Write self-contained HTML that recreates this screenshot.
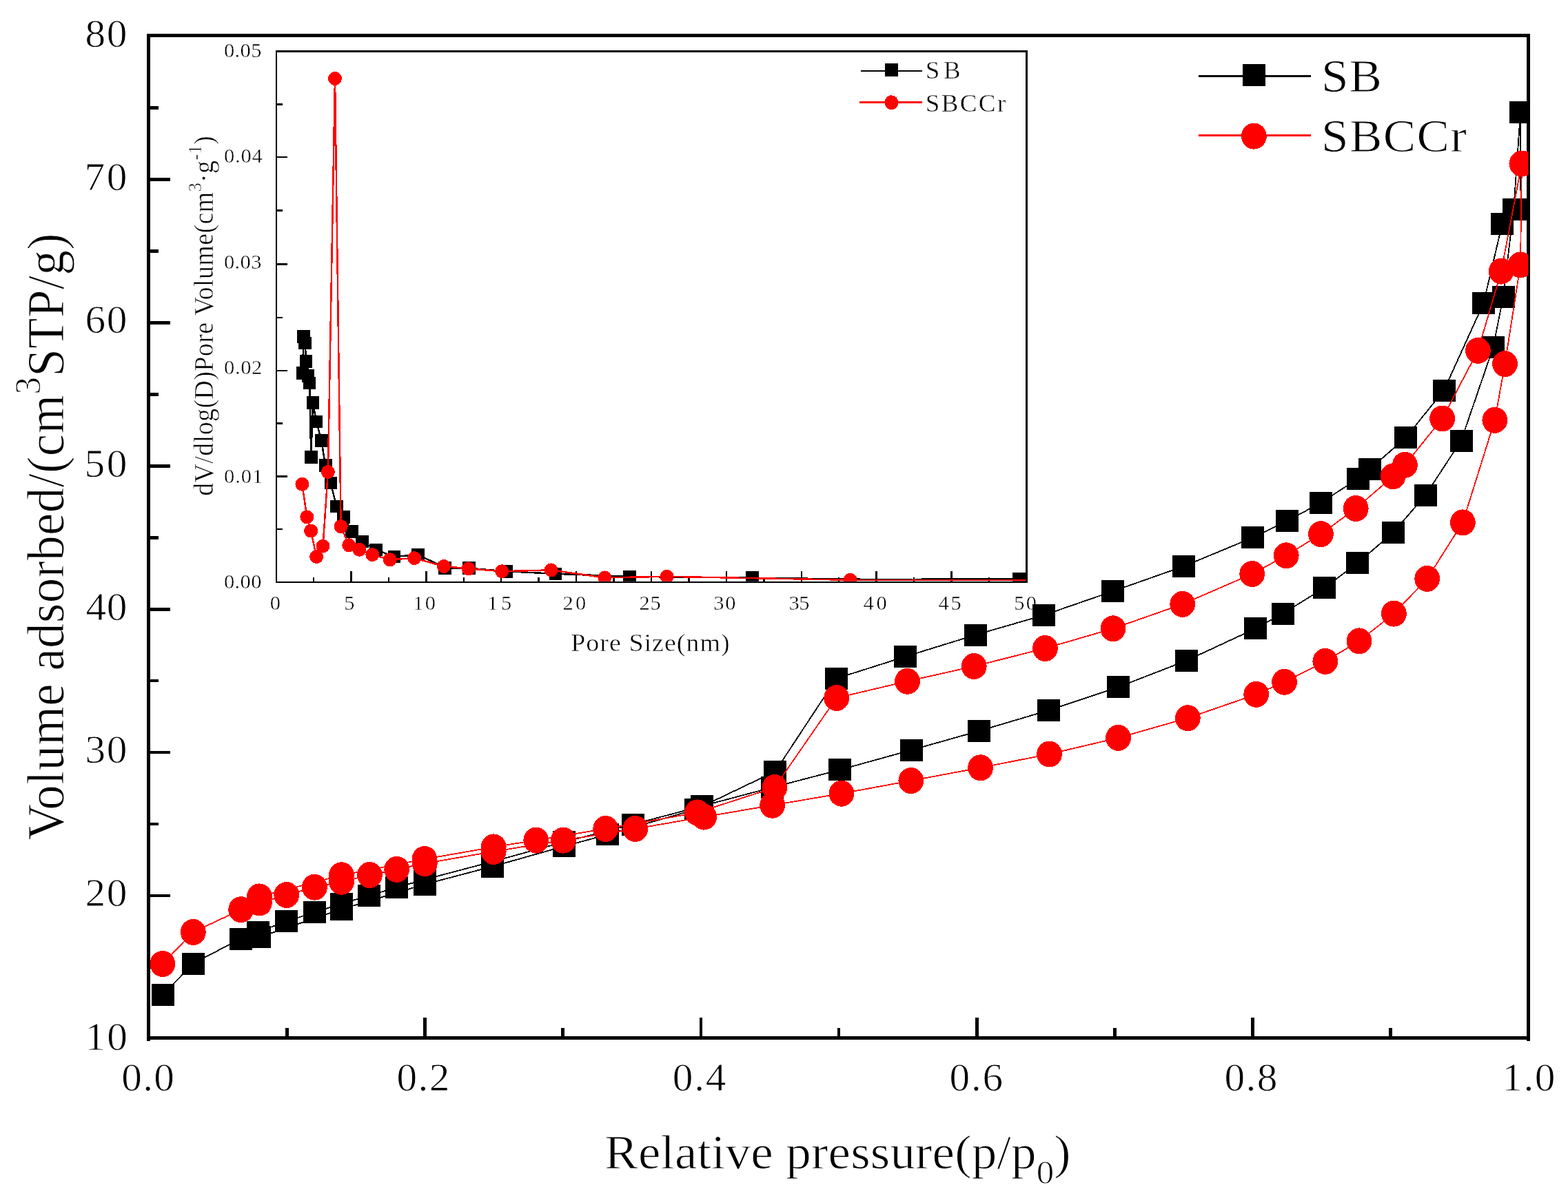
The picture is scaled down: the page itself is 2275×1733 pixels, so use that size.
<!DOCTYPE html>
<html lang="en"><head><meta charset="utf-8"><title>N2 adsorption-desorption isotherms</title>
<style>html,body{margin:0;padding:0;background:#fff}body{width:2275px;height:1733px;overflow:hidden}svg{display:block}text{font-family:'Liberation Serif', serif;fill:#000;white-space:pre}</style></head><body>
<svg width="2275" height="1733" viewBox="0 0 2275 1733">
<rect x="0" y="0" width="2275" height="1733" fill="#fff"/>
<defs><clipPath id="cm"><rect x="215.2" y="51.5" width="2002.0" height="1454.9"/></clipPath><clipPath id="ci"><rect x="402.4" y="75.8" width="1085.7" height="768.0"/></clipPath></defs>
<text transform="translate(123.40 1523.60) scale(1.0400 1.0000)" font-size="57.00" text-anchor="start" letter-spacing="2.13" stroke="#fff" stroke-width="0.81">10</text>
<text transform="translate(123.40 1314.96) scale(1.0400 1.0000)" font-size="57.00" text-anchor="start" letter-spacing="1.73" stroke="#fff" stroke-width="0.81">20</text>
<text transform="translate(123.40 1107.32) scale(1.0400 1.0000)" font-size="57.00" text-anchor="start" letter-spacing="1.73" stroke="#fff" stroke-width="0.81">30</text>
<text transform="translate(124.40 899.68) scale(1.0400 1.0000)" font-size="57.00" text-anchor="start" letter-spacing="0.76" stroke="#fff" stroke-width="0.81">40</text>
<text transform="translate(122.40 692.04) scale(1.0400 1.0000)" font-size="57.00" text-anchor="start" letter-spacing="2.63" stroke="#fff" stroke-width="0.81">50</text>
<text transform="translate(123.40 483.40) scale(1.0400 1.0000)" font-size="57.00" text-anchor="start" letter-spacing="1.73" stroke="#fff" stroke-width="0.81">60</text>
<text transform="translate(122.40 275.76) scale(1.0400 1.0000)" font-size="57.00" text-anchor="start" letter-spacing="2.63" stroke="#fff" stroke-width="0.81">70</text>
<text transform="translate(123.40 68.12) scale(1.0400 1.0000)" font-size="57.00" text-anchor="start" letter-spacing="1.69" stroke="#fff" stroke-width="0.81">80</text>
<text transform="translate(176.20 1583.20) scale(1.0400 1.0000)" font-size="57.00" text-anchor="start" letter-spacing="1.26" stroke="#fff" stroke-width="0.81">0.0</text>
<text transform="translate(575.60 1583.20) scale(1.0400 1.0000)" font-size="57.00" text-anchor="start" letter-spacing="1.31" stroke="#fff" stroke-width="0.81">0.2</text>
<text transform="translate(975.80 1583.20) scale(1.0400 1.0000)" font-size="57.00" text-anchor="start" letter-spacing="1.69" stroke="#fff" stroke-width="0.81">0.4</text>
<text transform="translate(1377.60 1583.20) scale(1.0400 1.0000)" font-size="57.00" text-anchor="start" letter-spacing="1.64" stroke="#fff" stroke-width="0.81">0.6</text>
<text transform="translate(1776.40 1583.20) scale(1.0400 1.0000)" font-size="57.00" text-anchor="start" letter-spacing="1.35" stroke="#fff" stroke-width="0.81">0.8</text>
<text transform="translate(2179.60 1583.20) scale(1.0400 1.0000)" font-size="57.00" text-anchor="start" letter-spacing="1.33" stroke="#fff" stroke-width="0.81">1.0</text>
<text transform="translate(877.00 1695.70) scale(1.0400 1.0000)" font-size="70.30" text-anchor="start" letter-spacing="0.16" stroke="#fff" stroke-width="1.00">Relative pressure(p/p<tspan dy="22" font-size="49">0</tspan><tspan dy="-22" font-size="70.3">)</tspan></text>
<text transform="translate(91.80 1219.40) rotate(-90) scale(0.9600 1.0000)" font-size="75.80" text-anchor="start" letter-spacing="0.42" stroke="#fff" stroke-width="1.00">Volume adsorbed/(cm<tspan dy="-34" font-size="53">3</tspan><tspan dy="34" font-size="75.8">STP/g)</tspan></text>
<text transform="translate(1917.00 133.20) scale(1.0400 1.0000)" font-size="68.30" text-anchor="start" letter-spacing="1.04" stroke="#fff" stroke-width="0.97">SB</text>
<text transform="translate(1917.00 219.80) scale(1.0400 1.0000)" font-size="68.30" text-anchor="start" letter-spacing="1.35" stroke="#fff" stroke-width="0.97">SBCCr</text>
<text transform="translate(1342.80 114.20) scale(1.0400 1.0000)" font-size="35.60" text-anchor="start" letter-spacing="5.33" stroke="#fff" stroke-width="0.50">SB</text>
<text transform="translate(1342.80 162.20) scale(1.0400 1.0000)" font-size="35.60" text-anchor="start" letter-spacing="2.28" stroke="#fff" stroke-width="0.50">SBCCr</text>
<text transform="translate(325.00 853.60) scale(1.0400 1.0000)" font-size="29.30" text-anchor="start" letter-spacing="0.36" stroke="#fff" stroke-width="0.42">0.00</text>
<text transform="translate(325.00 700.52) scale(1.0400 1.0000)" font-size="29.30" text-anchor="start" letter-spacing="0.94" stroke="#fff" stroke-width="0.42">0.01</text>
<text transform="translate(325.00 543.44) scale(1.0400 1.0000)" font-size="29.30" text-anchor="start" letter-spacing="0.65" stroke="#fff" stroke-width="0.42">0.02</text>
<text transform="translate(325.00 390.36) scale(1.0400 1.0000)" font-size="29.30" text-anchor="start" letter-spacing="0.36" stroke="#fff" stroke-width="0.42">0.03</text>
<text transform="translate(325.00 236.28) scale(1.0400 1.0000)" font-size="29.30" text-anchor="start" letter-spacing="0.79" stroke="#fff" stroke-width="0.42">0.04</text>
<text transform="translate(325.00 83.20) scale(1.0400 1.0000)" font-size="29.30" text-anchor="start" letter-spacing="0.36" stroke="#fff" stroke-width="0.42">0.05</text>
<text transform="translate(391.85 884.80) scale(1.0400 1.0000)" font-size="29.30" text-anchor="start" letter-spacing="0.00" stroke="#fff" stroke-width="0.42">0</text>
<text transform="translate(499.35 884.80) scale(1.0400 1.0000)" font-size="29.30" text-anchor="start" letter-spacing="0.00" stroke="#fff" stroke-width="0.42">5</text>
<text transform="translate(599.20 884.80) scale(1.0400 1.0000)" font-size="29.30" text-anchor="start" letter-spacing="2.27" stroke="#fff" stroke-width="0.42">10</text>
<text transform="translate(707.00 884.80) scale(1.0400 1.0000)" font-size="29.30" text-anchor="start" letter-spacing="4.57" stroke="#fff" stroke-width="0.42">15</text>
<text transform="translate(816.60 884.80) scale(1.0400 1.0000)" font-size="29.30" text-anchor="start" letter-spacing="3.02" stroke="#fff" stroke-width="0.42">20</text>
<text transform="translate(927.40 884.80) scale(1.0400 1.0000)" font-size="29.30" text-anchor="start" letter-spacing="0.75" stroke="#fff" stroke-width="0.42">25</text>
<text transform="translate(1035.20 884.80) scale(1.0400 1.0000)" font-size="29.30" text-anchor="start" letter-spacing="1.80" stroke="#fff" stroke-width="0.42">30</text>
<text transform="translate(1144.40 884.80) scale(1.0400 1.0000)" font-size="29.30" text-anchor="start" letter-spacing="-0.40" stroke="#fff" stroke-width="0.42">35</text>
<text transform="translate(1252.60 884.80) scale(1.0400 1.0000)" font-size="29.30" text-anchor="start" letter-spacing="3.63" stroke="#fff" stroke-width="0.42">40</text>
<text transform="translate(1361.60 884.80) scale(1.0400 1.0000)" font-size="29.30" text-anchor="start" letter-spacing="2.48" stroke="#fff" stroke-width="0.42">45</text>
<text transform="translate(1471.20 884.80) scale(1.0400 1.0000)" font-size="29.30" text-anchor="start" letter-spacing="2.27" stroke="#fff" stroke-width="0.42">50</text>
<text transform="translate(828.20 944.60) scale(1.0400 1.0000)" font-size="36.50" text-anchor="start" letter-spacing="0.99" stroke="#fff" stroke-width="0.52">Pore Size(nm)</text>
<text transform="translate(308.60 719.80) rotate(-90) scale(0.9600 1.0000)" font-size="39.50" text-anchor="start" letter-spacing="0.44" stroke="#fff" stroke-width="0.56">dV/dlog(D)Pore Volume(cm<tspan dy="-17" font-size="27">3</tspan><tspan dy="17" font-size="39.5">·g</tspan><tspan dy="-17" font-size="27">-1</tspan><tspan dy="17" font-size="39.5">)</tspan></text>
<g shape-rendering="crispEdges">
<rect x="212.70" y="49.00" width="5.00" height="1461.90" fill="#000"/>
<rect x="2214.50" y="49.00" width="5.00" height="1461.90" fill="#000"/>
<rect x="212.70" y="49.00" width="2006.80" height="5.00" fill="#000"/>
<rect x="212.70" y="1503.90" width="2006.80" height="5.00" fill="#000"/>
<rect x="414.13" y="1491.90" width="4.80" height="14.50" fill="#000"/>
<rect x="614.26" y="1477.40" width="4.80" height="29.00" fill="#000"/>
<rect x="814.39" y="1491.90" width="4.80" height="14.50" fill="#000"/>
<rect x="1014.52" y="1477.40" width="4.80" height="29.00" fill="#000"/>
<rect x="1214.65" y="1491.90" width="4.80" height="14.50" fill="#000"/>
<rect x="1414.78" y="1477.40" width="4.80" height="29.00" fill="#000"/>
<rect x="1614.91" y="1491.90" width="4.80" height="14.50" fill="#000"/>
<rect x="1815.04" y="1477.40" width="4.80" height="29.00" fill="#000"/>
<rect x="2015.17" y="1491.90" width="4.80" height="14.50" fill="#000"/>
<rect x="215.20" y="1401.44" width="14.70" height="4.80" fill="#000"/>
<rect x="215.20" y="1297.50" width="31.80" height="4.80" fill="#000"/>
<rect x="215.20" y="1193.56" width="14.70" height="4.80" fill="#000"/>
<rect x="215.20" y="1089.62" width="31.80" height="4.80" fill="#000"/>
<rect x="215.20" y="985.68" width="14.70" height="4.80" fill="#000"/>
<rect x="215.20" y="881.74" width="31.80" height="4.80" fill="#000"/>
<rect x="215.20" y="777.80" width="14.70" height="4.80" fill="#000"/>
<rect x="215.20" y="673.86" width="31.80" height="4.80" fill="#000"/>
<rect x="215.20" y="569.92" width="14.70" height="4.80" fill="#000"/>
<rect x="215.20" y="465.98" width="31.80" height="4.80" fill="#000"/>
<rect x="215.20" y="362.04" width="14.70" height="4.80" fill="#000"/>
<rect x="215.20" y="258.10" width="31.80" height="4.80" fill="#000"/>
<rect x="215.20" y="154.16" width="14.70" height="4.80" fill="#000"/>
</g>
<g clip-path="url(#cm)" shape-rendering="crispEdges">
<polyline points="236.0,1444.0 280.3,1398.5 349.0,1362.5 374.3,1352.6 415.9,1337.2 456.4,1324.0 495.9,1311.7 535.0,1299.9 575.9,1288.0 616.4,1276.5 714.9,1250.5 818.3,1222.0 918.2,1196.5 1018.3,1170.0 1120.0,1143.0 1218.4,1117.4 1322.0,1088.7 1420.4,1061.0 1521.3,1031.1 1622.4,997.3 1721.5,958.8 1821.7,912.2 1861.1,890.6 1921.5,853.3 1969.5,817.4 2021.2,773.0 2068.1,719.0 2120.0,639.5 2166.4,504.3 2181.0,430.6 2196.2,303.6 2206.0,163.2" fill="none" stroke="#000" stroke-width="1.80" stroke-linejoin="round"/>
<polyline points="2206.0,163.2 2206.5,304.0 2179.5,325.2 2152.4,440.3 2095.0,566.5 2039.6,635.2 1987.1,681.2 1970.6,694.6 1916.4,729.7 1867.4,756.2 1817.9,780.2 1717.2,822.0 1614.9,858.1 1514.0,893.0 1415.5,921.5 1313.3,953.1 1213.5,984.8 1124.9,1119.6 1009.7,1174.7 881.1,1211.4 818.3,1228.4 714.9,1257.5 616.4,1283.5 495.9,1319.5 376.3,1360.3" fill="none" stroke="#000" stroke-width="1.80" stroke-linejoin="round"/>
<rect x="219.5" y="1428.0" width="33.0" height="32.0" fill="#000"/>
<rect x="263.8" y="1382.5" width="33.0" height="32.0" fill="#000"/>
<rect x="332.5" y="1346.5" width="33.0" height="32.0" fill="#000"/>
<rect x="357.8" y="1336.6" width="33.0" height="32.0" fill="#000"/>
<rect x="399.4" y="1321.2" width="33.0" height="32.0" fill="#000"/>
<rect x="439.9" y="1308.0" width="33.0" height="32.0" fill="#000"/>
<rect x="479.4" y="1295.7" width="33.0" height="32.0" fill="#000"/>
<rect x="518.5" y="1283.9" width="33.0" height="32.0" fill="#000"/>
<rect x="559.4" y="1272.0" width="33.0" height="32.0" fill="#000"/>
<rect x="599.9" y="1260.5" width="33.0" height="32.0" fill="#000"/>
<rect x="698.4" y="1234.5" width="33.0" height="32.0" fill="#000"/>
<rect x="801.8" y="1206.0" width="33.0" height="32.0" fill="#000"/>
<rect x="901.7" y="1180.5" width="33.0" height="32.0" fill="#000"/>
<rect x="1001.8" y="1154.0" width="33.0" height="32.0" fill="#000"/>
<rect x="1103.5" y="1127.0" width="33.0" height="32.0" fill="#000"/>
<rect x="1201.9" y="1101.4" width="33.0" height="32.0" fill="#000"/>
<rect x="1305.5" y="1072.7" width="33.0" height="32.0" fill="#000"/>
<rect x="1403.9" y="1045.0" width="33.0" height="32.0" fill="#000"/>
<rect x="1504.8" y="1015.1" width="33.0" height="32.0" fill="#000"/>
<rect x="1605.9" y="981.3" width="33.0" height="32.0" fill="#000"/>
<rect x="1705.0" y="942.8" width="33.0" height="32.0" fill="#000"/>
<rect x="1805.2" y="896.2" width="33.0" height="32.0" fill="#000"/>
<rect x="1844.6" y="874.6" width="33.0" height="32.0" fill="#000"/>
<rect x="1905.0" y="837.3" width="33.0" height="32.0" fill="#000"/>
<rect x="1953.0" y="801.4" width="33.0" height="32.0" fill="#000"/>
<rect x="2004.7" y="757.0" width="33.0" height="32.0" fill="#000"/>
<rect x="2051.6" y="703.0" width="33.0" height="32.0" fill="#000"/>
<rect x="2103.5" y="623.5" width="33.0" height="32.0" fill="#000"/>
<rect x="2149.9" y="488.3" width="33.0" height="32.0" fill="#000"/>
<rect x="2164.5" y="414.6" width="33.0" height="32.0" fill="#000"/>
<rect x="2179.7" y="287.6" width="33.0" height="32.0" fill="#000"/>
<rect x="2189.5" y="147.2" width="33.0" height="32.0" fill="#000"/>
<rect x="2189.5" y="147.2" width="33.0" height="32.0" fill="#000"/>
<rect x="2190.0" y="288.0" width="33.0" height="32.0" fill="#000"/>
<rect x="2163.0" y="309.2" width="33.0" height="32.0" fill="#000"/>
<rect x="2135.9" y="424.3" width="33.0" height="32.0" fill="#000"/>
<rect x="2078.5" y="550.5" width="33.0" height="32.0" fill="#000"/>
<rect x="2023.1" y="619.2" width="33.0" height="32.0" fill="#000"/>
<rect x="1970.6" y="665.2" width="33.0" height="32.0" fill="#000"/>
<rect x="1954.1" y="678.6" width="33.0" height="32.0" fill="#000"/>
<rect x="1899.9" y="713.7" width="33.0" height="32.0" fill="#000"/>
<rect x="1850.9" y="740.2" width="33.0" height="32.0" fill="#000"/>
<rect x="1801.4" y="764.2" width="33.0" height="32.0" fill="#000"/>
<rect x="1700.7" y="806.0" width="33.0" height="32.0" fill="#000"/>
<rect x="1598.4" y="842.1" width="33.0" height="32.0" fill="#000"/>
<rect x="1497.5" y="877.0" width="33.0" height="32.0" fill="#000"/>
<rect x="1399.0" y="905.5" width="33.0" height="32.0" fill="#000"/>
<rect x="1296.8" y="937.1" width="33.0" height="32.0" fill="#000"/>
<rect x="1197.0" y="968.8" width="33.0" height="32.0" fill="#000"/>
<rect x="1108.4" y="1103.6" width="33.0" height="32.0" fill="#000"/>
<rect x="993.2" y="1158.7" width="33.0" height="32.0" fill="#000"/>
<rect x="864.6" y="1195.4" width="33.0" height="32.0" fill="#000"/>
<rect x="801.8" y="1212.4" width="33.0" height="32.0" fill="#000"/>
<rect x="698.4" y="1241.5" width="33.0" height="32.0" fill="#000"/>
<rect x="599.9" y="1267.5" width="33.0" height="32.0" fill="#000"/>
<rect x="479.4" y="1303.5" width="33.0" height="32.0" fill="#000"/>
<rect x="359.8" y="1344.3" width="33.0" height="32.0" fill="#000"/>
<polyline points="235.9,1398.9 280.3,1352.9 349.7,1320.2 376.4,1310.5 415.7,1299.0 456.4,1287.7 495.5,1279.8 536.4,1270.0 575.7,1261.8 616.3,1253.2 716.2,1235.9 817.4,1219.6 921.8,1202.9 1021.6,1185.6 1120.7,1168.7 1221.0,1151.7 1321.8,1133.1 1422.6,1114.3 1522.5,1094.5 1622.5,1070.9 1723.3,1042.2 1822.7,1007.8 1863.6,989.8 1922.8,959.9 1972.0,930.4 2022.4,890.6 2070.7,839.9 2122.3,758.4 2168.8,609.8 2183.5,528.2 2206.0,384.4 2207.9,237.5" fill="none" stroke="#f00" stroke-width="1.80" stroke-linejoin="round"/>
<polyline points="2207.9,237.5 2178.2,393.6 2144.4,508.9 2092.6,607.5 2038.4,674.8 2021.2,691.3 1967.2,738.0 1916.4,775.2 1866.2,806.3 1816.7,833.0 1715.7,876.9 1615.0,912.3 1516.4,941.0 1413.2,967.1 1316.5,988.8 1213.7,1013.0 1123.9,1143.0 1011.6,1179.4 878.7,1202.9 777.8,1219.6 716.2,1229.4 616.0,1247.0 495.5,1270.3 376.4,1301.4" fill="none" stroke="#f00" stroke-width="1.80" stroke-linejoin="round"/>
<ellipse cx="235.9" cy="1398.9" rx="18.4" ry="19.0" fill="#f00"/>
<ellipse cx="280.3" cy="1352.9" rx="18.4" ry="19.0" fill="#f00"/>
<ellipse cx="349.7" cy="1320.2" rx="18.4" ry="19.0" fill="#f00"/>
<ellipse cx="376.4" cy="1310.5" rx="18.4" ry="19.0" fill="#f00"/>
<ellipse cx="415.7" cy="1299.0" rx="18.4" ry="19.0" fill="#f00"/>
<ellipse cx="456.4" cy="1287.7" rx="18.4" ry="19.0" fill="#f00"/>
<ellipse cx="495.5" cy="1279.8" rx="18.4" ry="19.0" fill="#f00"/>
<ellipse cx="536.4" cy="1270.0" rx="18.4" ry="19.0" fill="#f00"/>
<ellipse cx="575.7" cy="1261.8" rx="18.4" ry="19.0" fill="#f00"/>
<ellipse cx="616.3" cy="1253.2" rx="18.4" ry="19.0" fill="#f00"/>
<ellipse cx="716.2" cy="1235.9" rx="18.4" ry="19.0" fill="#f00"/>
<ellipse cx="817.4" cy="1219.6" rx="18.4" ry="19.0" fill="#f00"/>
<ellipse cx="921.8" cy="1202.9" rx="18.4" ry="19.0" fill="#f00"/>
<ellipse cx="1021.6" cy="1185.6" rx="18.4" ry="19.0" fill="#f00"/>
<ellipse cx="1120.7" cy="1168.7" rx="18.4" ry="19.0" fill="#f00"/>
<ellipse cx="1221.0" cy="1151.7" rx="18.4" ry="19.0" fill="#f00"/>
<ellipse cx="1321.8" cy="1133.1" rx="18.4" ry="19.0" fill="#f00"/>
<ellipse cx="1422.6" cy="1114.3" rx="18.4" ry="19.0" fill="#f00"/>
<ellipse cx="1522.5" cy="1094.5" rx="18.4" ry="19.0" fill="#f00"/>
<ellipse cx="1622.5" cy="1070.9" rx="18.4" ry="19.0" fill="#f00"/>
<ellipse cx="1723.3" cy="1042.2" rx="18.4" ry="19.0" fill="#f00"/>
<ellipse cx="1822.7" cy="1007.8" rx="18.4" ry="19.0" fill="#f00"/>
<ellipse cx="1863.6" cy="989.8" rx="18.4" ry="19.0" fill="#f00"/>
<ellipse cx="1922.8" cy="959.9" rx="18.4" ry="19.0" fill="#f00"/>
<ellipse cx="1972.0" cy="930.4" rx="18.4" ry="19.0" fill="#f00"/>
<ellipse cx="2022.4" cy="890.6" rx="18.4" ry="19.0" fill="#f00"/>
<ellipse cx="2070.7" cy="839.9" rx="18.4" ry="19.0" fill="#f00"/>
<ellipse cx="2122.3" cy="758.4" rx="18.4" ry="19.0" fill="#f00"/>
<ellipse cx="2168.8" cy="609.8" rx="18.4" ry="19.0" fill="#f00"/>
<ellipse cx="2183.5" cy="528.2" rx="18.4" ry="19.0" fill="#f00"/>
<ellipse cx="2206.0" cy="384.4" rx="18.4" ry="19.0" fill="#f00"/>
<ellipse cx="2207.9" cy="237.5" rx="18.4" ry="19.0" fill="#f00"/>
<ellipse cx="2207.9" cy="237.5" rx="18.4" ry="19.0" fill="#f00"/>
<ellipse cx="2178.2" cy="393.6" rx="18.4" ry="19.0" fill="#f00"/>
<ellipse cx="2144.4" cy="508.9" rx="18.4" ry="19.0" fill="#f00"/>
<ellipse cx="2092.6" cy="607.5" rx="18.4" ry="19.0" fill="#f00"/>
<ellipse cx="2038.4" cy="674.8" rx="18.4" ry="19.0" fill="#f00"/>
<ellipse cx="2021.2" cy="691.3" rx="18.4" ry="19.0" fill="#f00"/>
<ellipse cx="1967.2" cy="738.0" rx="18.4" ry="19.0" fill="#f00"/>
<ellipse cx="1916.4" cy="775.2" rx="18.4" ry="19.0" fill="#f00"/>
<ellipse cx="1866.2" cy="806.3" rx="18.4" ry="19.0" fill="#f00"/>
<ellipse cx="1816.7" cy="833.0" rx="18.4" ry="19.0" fill="#f00"/>
<ellipse cx="1715.7" cy="876.9" rx="18.4" ry="19.0" fill="#f00"/>
<ellipse cx="1615.0" cy="912.3" rx="18.4" ry="19.0" fill="#f00"/>
<ellipse cx="1516.4" cy="941.0" rx="18.4" ry="19.0" fill="#f00"/>
<ellipse cx="1413.2" cy="967.1" rx="18.4" ry="19.0" fill="#f00"/>
<ellipse cx="1316.5" cy="988.8" rx="18.4" ry="19.0" fill="#f00"/>
<ellipse cx="1213.7" cy="1013.0" rx="18.4" ry="19.0" fill="#f00"/>
<ellipse cx="1123.9" cy="1143.0" rx="18.4" ry="19.0" fill="#f00"/>
<ellipse cx="1011.6" cy="1179.4" rx="18.4" ry="19.0" fill="#f00"/>
<ellipse cx="878.7" cy="1202.9" rx="18.4" ry="19.0" fill="#f00"/>
<ellipse cx="777.8" cy="1219.6" rx="18.4" ry="19.0" fill="#f00"/>
<ellipse cx="716.2" cy="1229.4" rx="18.4" ry="19.0" fill="#f00"/>
<ellipse cx="616.0" cy="1247.0" rx="18.4" ry="19.0" fill="#f00"/>
<ellipse cx="495.5" cy="1270.3" rx="18.4" ry="19.0" fill="#f00"/>
<ellipse cx="376.4" cy="1301.4" rx="18.4" ry="19.0" fill="#f00"/>
</g>
<g shape-rendering="crispEdges">
<rect x="399.95" y="73.25" width="2.50" height="773.00" fill="#000"/>
<rect x="1488.15" y="73.25" width="2.50" height="773.00" fill="#000"/>
<rect x="399.95" y="73.25" width="1090.70" height="2.50" fill="#000"/>
<rect x="399.95" y="843.75" width="1090.70" height="2.50" fill="#000"/>
<rect x="453.84" y="838.25" width="2.40" height="6.75" fill="#000"/>
<rect x="508.28" y="829.25" width="2.40" height="15.75" fill="#000"/>
<rect x="562.72" y="838.25" width="2.40" height="6.75" fill="#000"/>
<rect x="617.16" y="829.25" width="2.40" height="15.75" fill="#000"/>
<rect x="671.60" y="838.25" width="2.40" height="6.75" fill="#000"/>
<rect x="726.04" y="829.25" width="2.40" height="15.75" fill="#000"/>
<rect x="780.48" y="838.25" width="2.40" height="6.75" fill="#000"/>
<rect x="834.92" y="829.25" width="2.40" height="15.75" fill="#000"/>
<rect x="889.36" y="838.25" width="2.40" height="6.75" fill="#000"/>
<rect x="943.80" y="829.25" width="2.40" height="15.75" fill="#000"/>
<rect x="998.24" y="838.25" width="2.40" height="6.75" fill="#000"/>
<rect x="1052.68" y="829.25" width="2.40" height="15.75" fill="#000"/>
<rect x="1107.12" y="838.25" width="2.40" height="6.75" fill="#000"/>
<rect x="1161.56" y="829.25" width="2.40" height="15.75" fill="#000"/>
<rect x="1216.00" y="838.25" width="2.40" height="6.75" fill="#000"/>
<rect x="1270.44" y="829.25" width="2.40" height="15.75" fill="#000"/>
<rect x="1324.88" y="838.25" width="2.40" height="6.75" fill="#000"/>
<rect x="1379.32" y="829.25" width="2.40" height="15.75" fill="#000"/>
<rect x="1433.76" y="838.25" width="2.40" height="6.75" fill="#000"/>
<rect x="401.20" y="766.90" width="8.45" height="2.40" fill="#000"/>
<rect x="401.20" y="690.20" width="15.65" height="2.40" fill="#000"/>
<rect x="401.20" y="613.40" width="8.45" height="2.40" fill="#000"/>
<rect x="401.20" y="536.70" width="15.65" height="2.40" fill="#000"/>
<rect x="401.20" y="459.70" width="8.45" height="2.40" fill="#000"/>
<rect x="401.20" y="382.10" width="15.65" height="2.40" fill="#000"/>
<rect x="401.20" y="304.40" width="8.45" height="2.40" fill="#000"/>
<rect x="401.20" y="226.80" width="15.65" height="2.40" fill="#000"/>
<rect x="401.20" y="150.10" width="8.45" height="2.40" fill="#000"/>
</g>
<g clip-path="url(#ci)" shape-rendering="crispEdges">
<polyline points="439.1,541.2 440.4,488.4 442.7,498.0 444.0,524.3 447.1,545.2 449.1,556.0 451.3,663.4 454.0,584.5 459.1,612.1 466.3,639.6 472.2,675.6 479.8,701.0 488.2,735.0 498.4,750.4 510.7,771.7 525.2,785.9 545.4,797.8 571.8,808.0 606.6,805.1 645.7,824.3 680.3,824.7 734.8,829.2 805.8,832.8 913.3,836.8 1091.7,838.7 1328.0,841.8 1343.0,840.0 1478.5,840.0" fill="none" stroke="#000" stroke-width="2.50" stroke-linejoin="round"/>
<rect x="429.8" y="531.9" width="18.6" height="18.6" fill="#000"/>
<rect x="431.1" y="479.1" width="18.6" height="18.6" fill="#000"/>
<rect x="433.4" y="488.7" width="18.6" height="18.6" fill="#000"/>
<rect x="434.7" y="515.0" width="18.6" height="18.6" fill="#000"/>
<rect x="437.8" y="535.9" width="18.6" height="18.6" fill="#000"/>
<rect x="439.8" y="546.7" width="18.6" height="18.6" fill="#000"/>
<rect x="442.0" y="654.1" width="18.6" height="18.6" fill="#000"/>
<rect x="444.7" y="575.2" width="18.6" height="18.6" fill="#000"/>
<rect x="449.8" y="602.8" width="18.6" height="18.6" fill="#000"/>
<rect x="457.0" y="630.3" width="18.6" height="18.6" fill="#000"/>
<rect x="462.9" y="666.3" width="18.6" height="18.6" fill="#000"/>
<rect x="470.5" y="691.7" width="18.6" height="18.6" fill="#000"/>
<rect x="478.9" y="725.7" width="18.6" height="18.6" fill="#000"/>
<rect x="489.1" y="741.1" width="18.6" height="18.6" fill="#000"/>
<rect x="501.4" y="762.4" width="18.6" height="18.6" fill="#000"/>
<rect x="515.9" y="776.6" width="18.6" height="18.6" fill="#000"/>
<rect x="536.1" y="788.5" width="18.6" height="18.6" fill="#000"/>
<rect x="562.5" y="798.7" width="18.6" height="18.6" fill="#000"/>
<rect x="597.3" y="795.8" width="18.6" height="18.6" fill="#000"/>
<rect x="636.4" y="815.0" width="18.6" height="18.6" fill="#000"/>
<rect x="671.0" y="815.4" width="18.6" height="18.6" fill="#000"/>
<rect x="725.5" y="819.9" width="18.6" height="18.6" fill="#000"/>
<rect x="796.5" y="823.5" width="18.6" height="18.6" fill="#000"/>
<rect x="904.0" y="827.5" width="18.6" height="18.6" fill="#000"/>
<rect x="1082.4" y="829.4" width="18.6" height="18.6" fill="#000"/>
<rect x="1469.2" y="830.7" width="18.6" height="18.6" fill="#000"/>
<polyline points="438.4,702.8 445.3,750.4 451.1,770.5 459.1,808.0 468.5,792.7 475.9,685.0 486.0,114.0 494.6,764.1 506.2,791.3 521.4,797.8 540.3,805.1 565.7,812.3 601.2,810.1 644.0,822.0 679.7,825.4 728.2,829.2 799.6,827.4 877.4,838.4 967.7,836.8 1233.6,841.8 1489.4,842.2" fill="none" stroke="#f00" stroke-width="2.50" stroke-linejoin="round"/>
<circle cx="438.4" cy="702.8" r="10.0" fill="#f00"/>
<circle cx="445.3" cy="750.4" r="10.0" fill="#f00"/>
<circle cx="451.1" cy="770.5" r="10.0" fill="#f00"/>
<circle cx="459.1" cy="808.0" r="10.0" fill="#f00"/>
<circle cx="468.5" cy="792.7" r="10.0" fill="#f00"/>
<circle cx="475.9" cy="685.0" r="10.0" fill="#f00"/>
<circle cx="486.0" cy="114.0" r="10.0" fill="#f00"/>
<circle cx="494.6" cy="764.1" r="10.0" fill="#f00"/>
<circle cx="506.2" cy="791.3" r="10.0" fill="#f00"/>
<circle cx="521.4" cy="797.8" r="10.0" fill="#f00"/>
<circle cx="540.3" cy="805.1" r="10.0" fill="#f00"/>
<circle cx="565.7" cy="812.3" r="10.0" fill="#f00"/>
<circle cx="601.2" cy="810.1" r="10.0" fill="#f00"/>
<circle cx="644.0" cy="822.0" r="10.0" fill="#f00"/>
<circle cx="679.7" cy="825.4" r="10.0" fill="#f00"/>
<circle cx="728.2" cy="829.2" r="10.0" fill="#f00"/>
<circle cx="799.6" cy="827.4" r="10.0" fill="#f00"/>
<circle cx="877.4" cy="838.4" r="10.0" fill="#f00"/>
<circle cx="967.7" cy="836.8" r="10.0" fill="#f00"/>
<circle cx="1233.6" cy="841.8" r="10.0" fill="#f00"/>
</g>
<g shape-rendering="crispEdges">
<rect x="1739.20" y="108.60" width="162.40" height="3.00" fill="#000"/>
<rect x="1802.7" y="93.1" width="33.0" height="32.0" fill="#000"/>
<rect x="1739.20" y="195.30" width="162.40" height="3.00" fill="#f00"/>
<ellipse cx="1819.4" cy="197.6" rx="18.4" ry="19.0" fill="#f00"/>
<rect x="1249.20" y="101.80" width="88.80" height="2.40" fill="#000"/>
<rect x="1283.8" y="92.4" width="19.5" height="19.0" fill="#000"/>
<rect x="1246.70" y="147.40" width="91.30" height="2.40" fill="#f00"/>
<ellipse cx="1293.4" cy="148.8" rx="10.0" ry="10.5" fill="#f00"/>
</g>
</svg></body></html>
